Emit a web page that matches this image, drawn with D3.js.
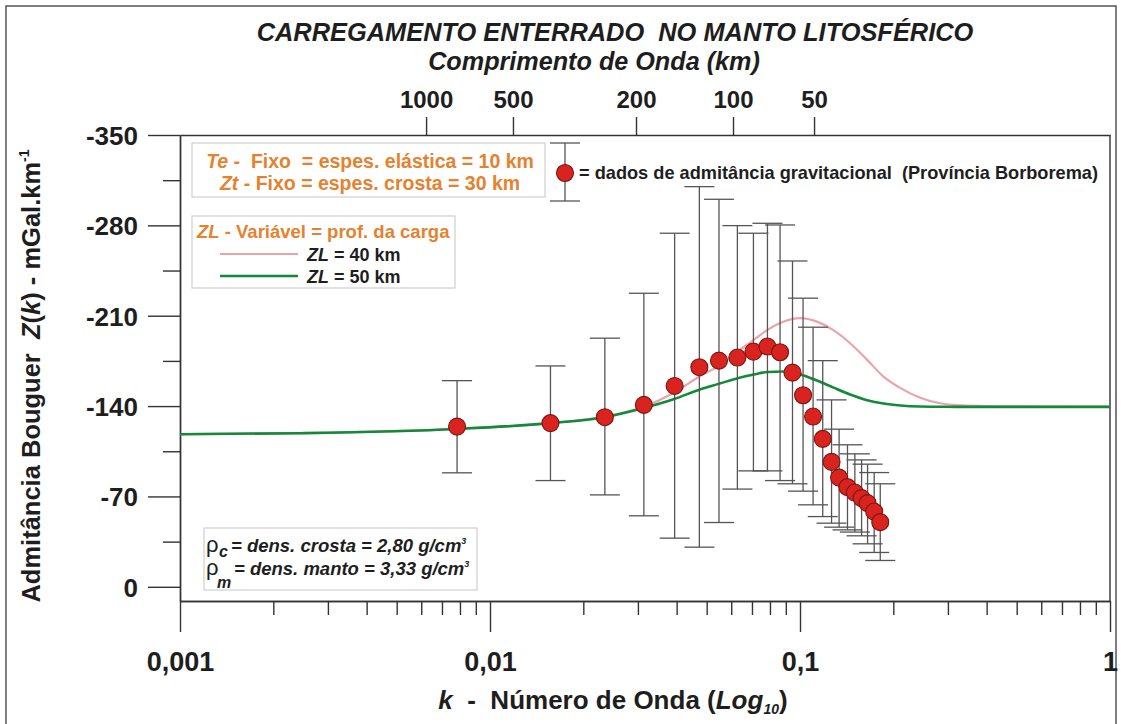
<!DOCTYPE html>
<html><head><meta charset="utf-8">
<script src="https://cdn.jsdelivr.net/npm/d3@7"></script>
<style>
body{margin:0;background:#fff}
text{font-family:"Liberation Sans",Arial,sans-serif;font-weight:bold;white-space:pre}
</style>
</head><body><svg id="c" width="1121" height="724"></svg>
<script>
// ---- data ----
const kData = [0.00783,0.01567,0.02347,0.03136,0.03941,0.04735,0.05478,0.06281,0.07076,0.07852,0.08623,0.09458,0.1023,0.1102,0.1184,0.1264,0.1337,0.1423,0.1503,0.1580,0.1652,0.1735,0.1815];
const zData = [-124.1,-126.8,-131.4,-140.9,-155.6,-170.1,-175.2,-177.6,-182.2,-186.1,-181.7,-165.9,-148.4,-131.9,-114.6,-96.8,-84.6,-77.2,-73.0,-68.7,-64.8,-58.3,-50.1];
const zErrTop = [-159.7,-171.1,-192.6,-227.4,-273.9,-310.0,-300.2,-279.8,-273.9,-281.6,-280.3,-252.4,-223.6,-201.1,-175.2,-144.8,-122.1,-110.0,-103.0,-98.3,-95.0,-88.5,-79.8];
const zErrBottom = [-88.3,-82.3,-71.2,-55.0,-37.7,-30.7,-49.8,-75.7,-89.8,-89.8,-82.3,-79.8,-74.1,-63.5,-54.4,-49.3,-46.2,-44.1,-42.4,-39.5,-33.3,-26.6,-20.4];

const curveK = [0.001,0.00244,0.00783,0.01567,0.0234,0.0313,0.0391,0.0478,0.0546,0.0629,0.0710,0.0785,0.0883,0.1003,0.1134,0.1278,0.1451,0.1647,0.1859,0.2110,0.2442,0.2830,0.3211,0.4450,1];
const zl40 = [-118.2,-119.0,-122.3,-126.8,-131.8,-139.5,-150.2,-163.5,-171.0,-182.2,-191.3,-199.0,-205.4,-208.1,-205.4,-199.0,-188.7,-175.8,-162.8,-153.9,-146.5,-142.2,-140.7,-139.8,-139.6];
const zl50 = [-118.2,-119.0,-122.3,-126.8,-131.4,-138.5,-145.3,-153.1,-157.2,-161.6,-164.5,-166.4,-166.8,-164.5,-159.8,-154.5,-149.0,-144.6,-142.0,-140.5,-139.7,-139.5,-139.4,-139.4,-139.4];

const yMajorTicks = [-350,-280,-210,-140,-70,0];
const yMinorTicks = [-315,-245,-175,-105,-35];
const xMajorTicks = [0.001,0.01,0.1,1];
const xMajorLabels = ["0,001","0,01","0,1","1"];
const topTickK = [0.00622,0.01186,0.02958,0.0608,0.1110];
const topTickLabels = ["1000","500","200","100","50"];

// ---- layout ----
const svg = d3.select("#c");
const x = d3.scaleLog().domain([0.001,1]).range([180,1110]);
const y = d3.scaleLinear().domain([-350,11]).range([135,601]);

const orange = "#E5822F";
const dark = "#1e1e1e";

// outer frame
svg.append("rect").attr("x",6).attr("y",6).attr("width",1110).attr("height",740)
  .attr("fill","none").attr("stroke","#555").attr("stroke-width",1.5);

// title
svg.append("text").attr("x",615).attr("y",41).attr("text-anchor","middle")
  .attr("font-size",25.4).attr("font-style","italic").attr("fill",dark)
  .text("CARREGAMENTO ENTERRADO  NO MANTO LITOSFÉRICO");
svg.append("text").attr("x",594).attr("y",70).attr("text-anchor","middle")
  .attr("font-size",25.2).attr("font-style","italic").attr("fill",dark)
  .text("Comprimento de Onda (km)");

// axes
function styleAxis(g, fs){
  g.selectAll("path,line").attr("stroke","#333").attr("stroke-width",1.4);
  g.selectAll("text").attr("font-size",fs).attr("fill",dark)
    .style("font-family","'Liberation Sans',Arial,sans-serif").style("font-weight","bold");
}
const gyMinor = svg.append("g").attr("transform","translate(180,0)")
  .call(d3.axisLeft(y).tickValues(yMinorTicks).tickSize(17).tickSizeOuter(0).tickFormat(""));
styleAxis(gyMinor, 0);
const gy = svg.append("g").attr("transform","translate(180,0)")
  .call(d3.axisLeft(y).tickValues(yMajorTicks).tickSize(32).tickSizeOuter(0).tickPadding(10).tickFormat(d=>String(d)));
styleAxis(gy, 26);
gy.selectAll("text").attr("dy","0.36em");

const xMinor = [];
[0.001,0.01,0.1].forEach(d=>{for(let i=2;i<=9;i++) xMinor.push(d*i);});
const gxMinor = svg.append("g").attr("transform","translate(0,601)")
  .call(d3.axisBottom(x).tickValues(xMinor).tickSize(14).tickSizeOuter(0).tickFormat(""));
styleAxis(gxMinor, 0);
const gx = svg.append("g").attr("transform","translate(0,601)")
  .call(d3.axisBottom(x).tickValues(xMajorTicks).tickSize(31).tickSizeOuter(0).tickPadding(20)
    .tickFormat((d,i)=>xMajorLabels[i]));
styleAxis(gx, 27);

const gt = svg.append("g").attr("transform","translate(0,135)")
  .call(d3.axisTop(x).tickValues(topTickK).tickSize(18).tickSizeOuter(0).tickPadding(9)
    .tickFormat((d,i)=>topTickLabels[i]));
styleAxis(gt, 24);
svg.append("line").attr("x1",1110).attr("x2",1110).attr("y1",135).attr("y2",601)
  .attr("stroke","#333").attr("stroke-width",1.4);

// axis titles
const yt = svg.append("text").attr("transform","translate(40,376) rotate(-90)")
  .attr("text-anchor","middle").attr("font-size",25.5).attr("fill",dark);
yt.append("tspan").text("Admitância Bouguer  ");
yt.append("tspan").attr("font-style","italic").text("Z");
yt.append("tspan").text("(");
yt.append("tspan").attr("font-style","italic").text("k");
yt.append("tspan").text(") - mGal.km");
yt.append("tspan").attr("font-size",14).attr("dy",-11).text("-1");

const xt = svg.append("text").attr("x",613).attr("y",709).attr("text-anchor","middle")
  .attr("font-size",26).attr("fill",dark);
xt.append("tspan").attr("font-style","italic").text("k");
xt.append("tspan").text("  -  Número de Onda (");
xt.append("tspan").attr("font-style","italic").text("Log");
xt.append("tspan").attr("font-style","italic").attr("font-size",14).attr("dy",5).text("10");
xt.append("tspan").attr("dy",-5).text(")");

// curves
const curveData = (arr)=>curveK.map((k,i)=>({k:k,v:arr[i]}));
const line = d3.line().x(d=>x(d.k)).y(d=>y(d.v)).curve(d3.curveMonotoneX);
svg.append("path").datum(curveData(zl40)).attr("d",line)
  .attr("fill","none").attr("stroke","#EBA3AB").attr("stroke-width",2.2);
svg.append("path").datum(curveData(zl50)).attr("d",line)
  .attr("fill","none").attr("stroke","#138A3A").attr("stroke-width",2.6);

// error bars and points
const pts = kData.map((k,i)=>({k:k,v:zData[i],t:zErrTop[i],b:zErrBottom[i]}));
const eb = svg.append("g").attr("stroke","#555").attr("stroke-width",1.3);
pts.forEach(p=>{
  const cx = x(p.k);
  eb.append("line").attr("x1",cx).attr("x2",cx).attr("y1",y(p.t)).attr("y2",y(p.b));
  eb.append("line").attr("x1",cx-15).attr("x2",cx+15).attr("y1",y(p.t)).attr("y2",y(p.t));
  eb.append("line").attr("x1",cx-15).attr("x2",cx+15).attr("y1",y(p.b)).attr("y2",y(p.b));
});
svg.append("g").selectAll("circle").data(pts).join("circle")
  .attr("cx",d=>x(d.k)).attr("cy",d=>y(d.v)).attr("r",8.5)
  .attr("fill","#D8231F").attr("stroke","#7a1512").attr("stroke-width",1.1);

// legend box 1
svg.append("rect").attr("x",192).attr("y",143).attr("width",353).attr("height",54)
  .attr("fill","#fff").attr("stroke","#cfcfcf").attr("stroke-width",1.2);
let t1 = svg.append("text").attr("x",370).attr("y",168).attr("text-anchor","middle").attr("font-size",19.5).attr("fill",orange);
t1.append("tspan").attr("font-style","italic").text("Te");
t1.append("tspan").text(" -  Fixo  = espes. elástica = 10 km");
let t2 = svg.append("text").attr("x",370).attr("y",190).attr("text-anchor","middle").attr("font-size",19.5).attr("fill",orange);
t2.append("tspan").attr("font-style","italic").text("Zt");
t2.append("tspan").text(" - Fixo = espes. crosta = 30 km");

// legend box 2
svg.append("rect").attr("x",192).attr("y",216).attr("width",263).attr("height",72)
  .attr("fill","#fff").attr("stroke","#cfcfcf").attr("stroke-width",1.2);
let t3 = svg.append("text").attr("x",197).attr("y",238).attr("font-size",18.5).attr("fill",orange);
t3.append("tspan").attr("font-style","italic").text("ZL");
t3.append("tspan").text(" - Variável = prof. da carga");
svg.append("line").attr("x1",220).attr("x2",298).attr("y1",254).attr("y2",254).attr("stroke","#EBA3AB").attr("stroke-width",2.2);
svg.append("line").attr("x1",220).attr("x2",298).attr("y1",276).attr("y2",276).attr("stroke","#138A3A").attr("stroke-width",2.6);
[["40",261],["50",283]].forEach(([v,yy])=>{
  const t = svg.append("text").attr("x",307).attr("y",yy).attr("font-size",18).attr("fill",dark);
  t.append("tspan").attr("font-style","italic").text("ZL");
  t.append("tspan").text(" = "+v+" km");
});

// data legend
const lg = svg.append("g");
lg.append("line").attr("x1",565).attr("x2",565).attr("y1",143).attr("y2",201).attr("stroke","#555").attr("stroke-width",1.3);
lg.append("line").attr("x1",550).attr("x2",580).attr("y1",143).attr("y2",143).attr("stroke","#555").attr("stroke-width",1.3);
lg.append("line").attr("x1",550).attr("x2",580).attr("y1",201).attr("y2",201).attr("stroke","#555").attr("stroke-width",1.3);
lg.append("circle").attr("cx",565).attr("cy",173).attr("r",8.5).attr("fill","#D8231F").attr("stroke","#7a1512").attr("stroke-width",1.1);
lg.append("text").attr("x",579).attr("y",179).attr("font-size",18.2).attr("fill",dark)
  .text("= dados de admitância gravitacional  (Província Borborema)");

// density box
svg.append("rect").attr("x",204).attr("y",528).attr("width",273).attr("height",62)
  .attr("fill","#fff").attr("stroke","#cfcfcf").attr("stroke-width",1.2);
[["c","= dens. crosta = 2,80 g/cm",552,557,219,231],["m","= dens. manto = 3,33 g/cm",575,588,217,234]].forEach(([s,txt,yy,ys,xs,xx])=>{
  svg.append("text").attr("x",206).attr("y",yy).attr("font-size",22).style("font-weight","normal").attr("fill",dark).text("ρ");
  svg.append("text").attr("x",xs).attr("y",ys).attr("font-size",16).attr("font-style","italic").attr("fill",dark).text(s);
  const t = svg.append("text").attr("x",xx).attr("y",yy).attr("font-size",18.5).attr("font-style","italic").attr("fill",dark);
  t.append("tspan").text(txt);
  t.append("tspan").attr("font-size",9).attr("dy",-8).text("3");
});
</script></body></html>
